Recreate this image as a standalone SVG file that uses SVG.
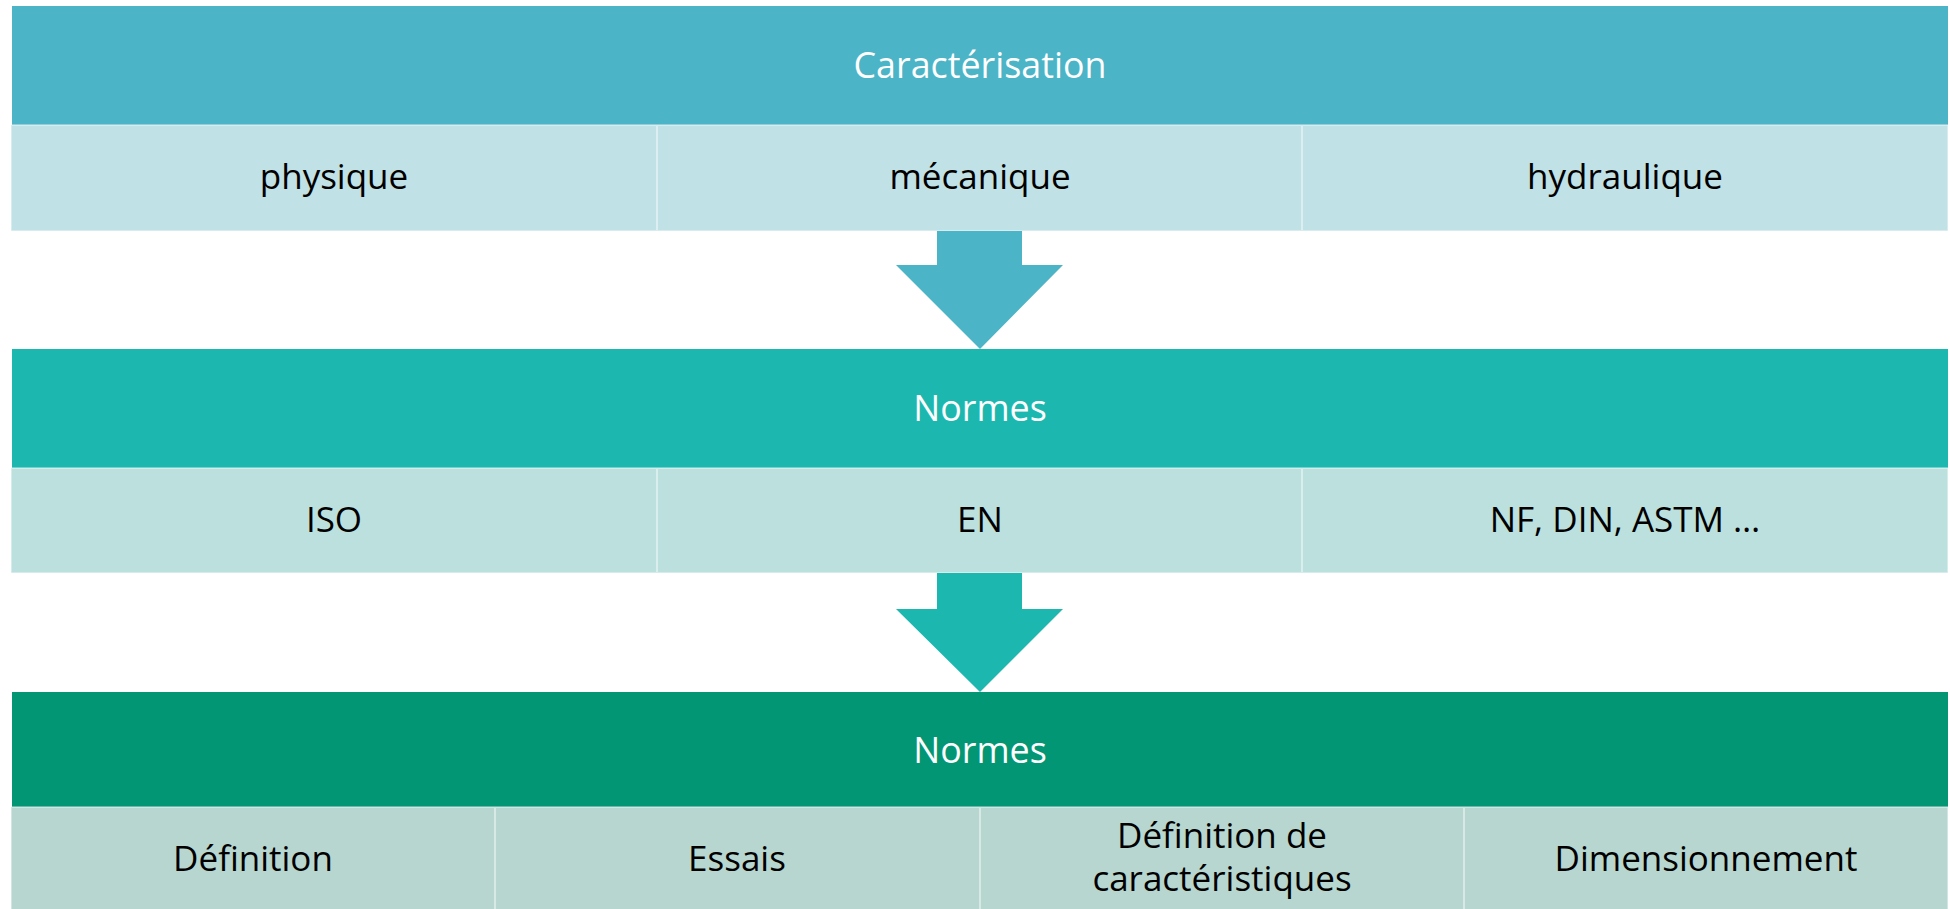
<svg xmlns="http://www.w3.org/2000/svg" width="1950" height="909" viewBox="0 0 1950 909">
<style>
.hd{font-family:"Open Sans","Liberation Sans",sans-serif;font-size:35.8px;fill:#ffffff;text-anchor:middle}
.sb{font-family:"Open Sans","Liberation Sans",sans-serif;font-size:35px;fill:#000000;text-anchor:middle}
.div{stroke:#ffffff;stroke-opacity:0.45;stroke-width:2}
.cell{stroke:#ffffff;stroke-opacity:0.5;stroke-width:1.5}
</style>
<rect width="1950" height="909" fill="#ffffff"/>
<g id="row1">
  <g id="header1"><rect x="12" y="6" width="1936" height="119" fill="#4BB4C6"/><text class="hd" x="980" y="78">Caractérisation</text></g>
  <g id="sub1">
    <rect class="cell" x="11" y="125" width="1937" height="106" fill="#C0E1E5"/>
    <line class="div" x1="657" y1="126" x2="657" y2="230"/>
    <line class="div" x1="1302" y1="126" x2="1302" y2="230"/>
    <text class="sb" x="334" y="189">physique</text>
    <text class="sb" x="980" y="189">mécanique</text>
    <text class="sb" x="1625" y="189">hydraulique</text>
  </g>
</g>
<g id="row2">
  <g id="header2"><rect x="12" y="349" width="1936" height="119" fill="#1CB8B0"/><text class="hd" x="980" y="421">Normes</text></g>
  <g id="sub2">
    <rect class="cell" x="11" y="468" width="1937" height="105" fill="#BBE0DE"/>
    <line class="div" x1="657" y1="469" x2="657" y2="572"/>
    <line class="div" x1="1302" y1="469" x2="1302" y2="572"/>
    <text class="sb" x="334" y="532">ISO</text>
    <text class="sb" x="980" y="532">EN</text>
    <text class="sb" x="1625" y="532">NF, DIN, ASTM …</text>
  </g>
</g>
<g id="row3">
  <g id="header3"><rect x="12" y="692" width="1936" height="115" fill="#039675"/><text class="hd" x="980" y="763">Normes</text></g>
  <g id="sub3">
    <rect class="cell" x="11" y="807" width="1937" height="110" fill="#B6D6CF"/>
    <line class="div" x1="495" y1="808" x2="495" y2="909"/>
    <line class="div" x1="980" y1="808" x2="980" y2="909"/>
    <line class="div" x1="1464" y1="808" x2="1464" y2="909"/>
    <text class="sb" x="253" y="871">Définition</text>
    <text class="sb" x="737" y="871">Essais</text>
    <text class="sb" x="1222" y="848">Définition de</text>
    <text class="sb" x="1222" y="891">caractéristiques</text>
    <text class="sb" x="1706" y="871">Dimensionnement</text>
  </g>
</g>
<g id="connectors">
  <polygon points="937,231 1022,231 1022,265 1063,265 980,349 896,265 937,265" fill="#4BB4C6"/>
  <polygon points="937,573 1022,573 1022,609 1063,609 980,692 896,609 937,609" fill="#1CB8B0"/>
</g>
</svg>
